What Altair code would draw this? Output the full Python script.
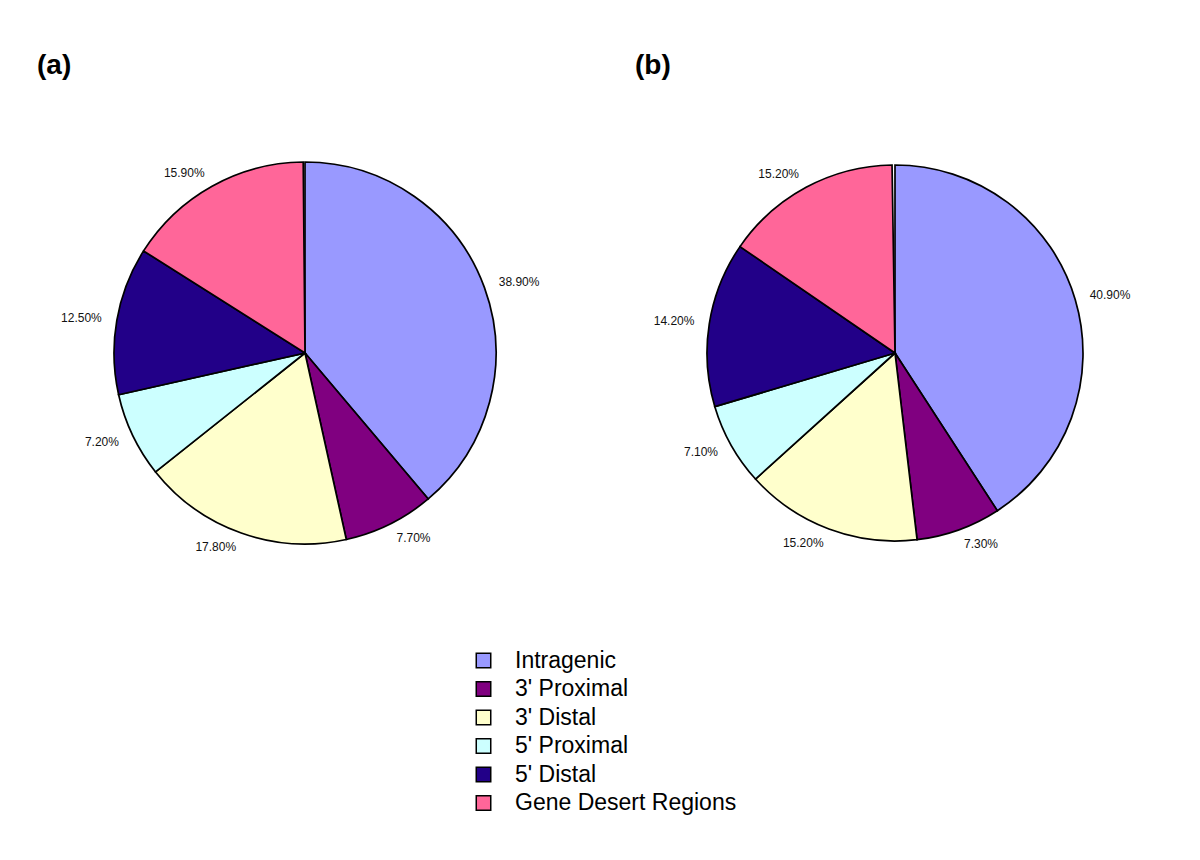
import altair as alt
import pandas as pd

categories = ["Intragenic", "3' Proximal", "3' Distal", "5' Proximal", "5' Distal", "Gene Desert Regions"]
values_a = [38.9, 7.7, 17.8, 7.2, 12.5, 15.9]
values_b = [40.9, 7.3, 15.2, 7.1, 14.2, 15.2]
colors = ["#9999FF", "#800080", "#FFFFCC", "#CCFFFF", "#220088", "#FF6699"]
panels = ["(a)", "(b)"]

rows = []
for panel, vals in [("a", values_a), ("b", values_b)]:
    for i, (c, v) in enumerate(zip(categories, vals)):
        rows.append({"panel": panel, "category": c, "order": i, "value": v, "label": f"{v:.2f}%"})
df = pd.DataFrame(rows)

FONT = "Liberation Sans"
theta_scale = alt.Scale(domain=[0, 100.15])
color_scale = alt.Scale(domain=categories, range=colors)

base = alt.Chart(df).transform_window(
    cum="sum(value)", sort=[{"field": "order"}], groupby=["panel"], frame=[None, 0]
).transform_calculate(
    start="datum.cum - datum.value",
    mid="datum.cum - datum.value / 2",
)

centers = {"a": (297, 345, 191), "b": (887, 345, 188)}

layers = []
for p, (cx, cy, r) in centers.items():
    arc = base.transform_filter(alt.datum.panel == p).mark_arc(
        stroke="black", strokeWidth=1.7, radius=r
    ).encode(
        theta=alt.Theta("start:Q", scale=theta_scale, stack=None),
        theta2="cum:Q",
        color=alt.Color(
            "category:N",
            scale=color_scale,
            sort=categories,
            legend=alt.Legend(
                title=None,
                orient="none",
                legendX=464,
                legendY=641,
                symbolType="square",
                symbolSize=210,
                symbolStrokeColor="black",
                symbolStrokeWidth=1.5,
                labelFont=FONT,
                labelFontSize=23,
                labelColor="black",
                labelOffset=20,
                rowPadding=4.5,
                labelLimit=400,
            ),
        ),
        x=alt.value(cx),
        y=alt.value(cy),
    )
    layers.append(arc)
    for cond, align in [(alt.datum.mid < 50, "left"), (alt.datum.mid >= 50, "right")]:
        txt = base.transform_filter(alt.datum.panel == p).transform_filter(cond).mark_text(
            align=align, baseline="middle", font=FONT, fontSize=12, color="#111111"
        ).encode(
            theta=alt.Theta("mid:Q", scale=theta_scale, stack=None),
            radius=alt.value(r * 1.08),
            text="label:N",
            x=alt.value(cx),
            y=alt.value(cy),
        )
        layers.append(txt)

title_df = pd.DataFrame({"t": panels})
for t, tx in zip(panels, [29, 627]):
    layers.append(
        alt.Chart(title_df).transform_filter(alt.datum.t == t).mark_text(
            align="left", baseline="middle", font=FONT, fontSize=28, fontWeight="bold", color="black"
        ).encode(text="t:N", x=alt.value(tx), y=alt.value(58))
    )

chart = alt.layer(*layers).properties(
    width=1184, height=844, padding=0, autosize=alt.AutoSizeParams(type="none")
).configure_view(stroke=None)

chart.save("out.html", embed_options={"renderer": "svg", "actions": False})
